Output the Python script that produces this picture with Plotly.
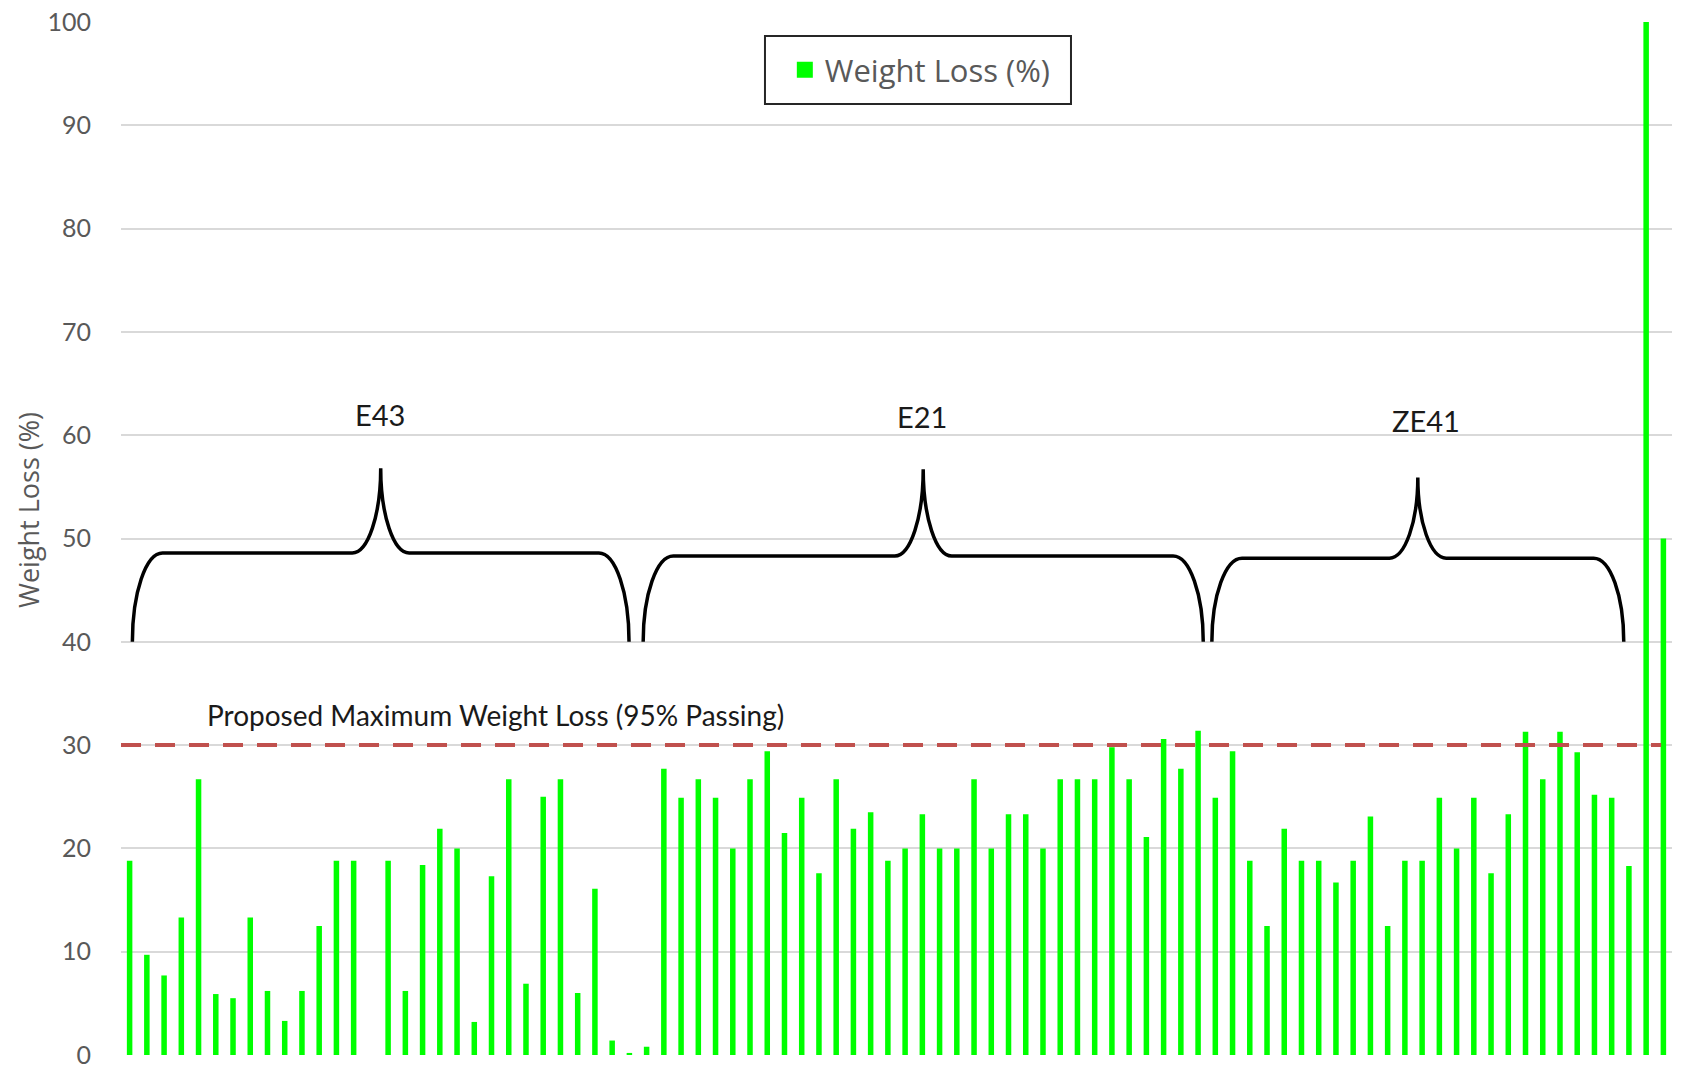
import plotly.graph_objects as go

# ---------------- data ----------------
categories = list(range(1, 91))
weight_loss = [
    18.8, 9.7, 7.7, 13.3, 26.7, 5.9, 5.5, 13.3, 6.2, 3.3,
    6.2, 12.5, 18.8, 18.8, None, 18.8, 6.2, 18.4, 21.9, 20.0,
    3.2, 17.3, 26.7, 6.9, 25.0, 26.7, 6.0, 16.1, 1.4, 0.2,
    0.8, 27.7, 24.9, 26.7, 24.9, 20.0, 26.7, 29.4, 21.5, 24.9,
    17.6, 26.7, 21.9, 23.5, 18.8, 20.0, 23.3, 20.0, 20.0, 26.7,
    20.0, 23.3, 23.3, 20.0, 26.7, 26.7, 26.7, 29.8, 26.7, 21.1,
    30.6, 27.7, 31.4, 24.9, 29.4, 18.8, 12.5, 21.9, 18.8, 18.8,
    16.7, 18.8, 23.1, 12.5, 18.8, 18.8, 24.9, 20.0, 24.9, 17.6,
    23.3, 31.3, 26.7, 31.3, 29.3, 25.2, 24.9, 18.3, 100.0, 50.0,
]
series_name = "Weight Loss (%)"
threshold = 30
threshold_label = "Proposed Maximum Weight Loss (95% Passing)"

group_names = ["E43", "E21", "ZE41"]
group_start = [1.16, 30.8, 63.8]
group_end = [29.98, 63.3, 87.7]
brace_base = [40, 40, 40]
brace_mid = [48.6, 48.3, 48.1]
brace_peak = [56.8, 56.7, 55.9]
label_x = [15.5, 47.0, 76.2]
label_y = [62.0, 61.8, 61.4]

y_ticks = list(range(0, 101, 10))

FONT = "Lato"
FONT2 = "Open Sans"
GRAY = "#595959"

fig = go.Figure()
fig.add_trace(go.Bar(
    x=categories, y=weight_loss, name=series_name, width=0.32,
    marker=dict(color="#00FF00", line=dict(width=0)),
    showlegend=False, legendgroup="wl",
))
# legend entry (larger square symbol than bar default)
fig.add_trace(go.Scatter(
    x=[None], y=[None], mode="markers", name=series_name, legendgroup="wl",
    marker=dict(symbol="square", size=16, color="#00FF00"),
))

# braces
K = 0.552
cw = 1.75     # corner width in category units
cuw = 1.65    # cusp half width
shapes = []
for s, e, b, m, p in zip(group_start, group_end, brace_base, brace_mid, brace_peak):
    xm = (s + e) / 2
    h1 = m - b
    h2 = p - m
    path = (
        f"M {s},{b} "
        f"C {s},{b + K*h1} {s + cw - K*cw},{m} {s + cw},{m} "
        f"L {xm - cuw},{m} "
        f"C {xm - cuw + K*cuw},{m} {xm},{p - K*h2} {xm},{p} "
        f"C {xm},{p - K*h2} {xm + cuw - K*cuw},{m} {xm + cuw},{m} "
        f"L {e - cw},{m} "
        f"C {e - cw + K*cw},{m} {e},{b + K*h1} {e},{b}"
    )
    shapes.append(dict(type="path", path=path, xref="x", yref="y",
                       line=dict(color="black", width=3.5)))

# threshold dashed line
shapes.append(dict(type="line", xref="paper", yref="y", x0=0, x1=0.993,
                   y0=threshold, y1=threshold,
                   line=dict(color="#C0504D", width=4, dash="20px,14px")))
# legend box
shapes.append(dict(type="rect", xref="paper", yref="paper",
                   x0=0.4152, x1=0.6125, y0=0.9206, y1=0.9864,
                   line=dict(color="#262626", width=2), fillcolor="white",
                   layer="below"))

annotations = []
for name, lx, ly in zip(group_names, label_x, label_y):
    annotations.append(dict(x=lx, y=ly, xref="x", yref="y", text=name,
                            showarrow=False, font=dict(family=FONT, size=29, color="#1a1a1a")))
annotations.append(dict(x=5.36, y=32.9, xref="x", yref="y", text=threshold_label,
                        xanchor="left", showarrow=False,
                        font=dict(family=FONT, size=28, color="#1a1a1a")))
annotations.append(dict(x=-0.0593, y=0.5276, xref="paper", yref="paper",
                        xanchor="center", yanchor="middle",
                        text=series_name, textangle=-90, showarrow=False,
                        font=dict(family=FONT2, size=27, color=GRAY)))

fig.update_layout(
    width=1683, height=1067,
    margin=dict(l=113, r=19, t=14, b=20, autoexpand=False),
    paper_bgcolor="white", plot_bgcolor="white",
    font=dict(family=FONT, color=GRAY),
    shapes=shapes, annotations=annotations,
    showlegend=True,
    legend=dict(x=0.428, y=0.9535, xanchor="left", yanchor="middle",
                bgcolor="rgba(0,0,0,0)", borderwidth=0,
                font=dict(family=FONT2, size=31, color=GRAY)),
)
fig.update_xaxes(range=[0.5, 90.5], showticklabels=False, showgrid=False,
                 zeroline=False, showline=False, ticks="", automargin=False)
fig.update_yaxes(range=[0, 100], tickvals=y_ticks, showgrid=True,
                 gridcolor="#D9D9D9", gridwidth=1.5, zeroline=False,
                 showline=False, ticks="", ticklabelstandoff=29, automargin=False,
                 ticklabeloverflow="allow",
                 tickfont=dict(family=FONT, size=25, color=GRAY))

fig.write_html("out.html")
